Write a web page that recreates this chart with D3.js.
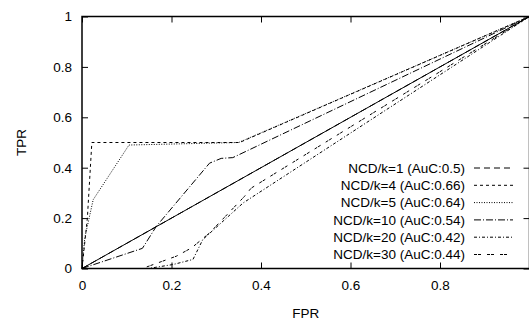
<!DOCTYPE html>
<html>
<head>
<meta charset="utf-8">
<script src="https://cdn.jsdelivr.net/npm/d3@7"></script>
<style>
  body { margin: 0; background: #fff; }
  svg { display: block; }
  text { font-family: "Liberation Sans", Arial, Helvetica, sans-serif; fill: #000; }
</style>
</head>
<body>
<div id="chart"></div>
<script>
// ROC curves, [FPR, TPR] pairs
const seriesLabels = ['NCD/k=1', 'NCD/k=4', 'NCD/k=5', 'NCD/k=10', 'NCD/k=20', 'NCD/k=30'];
const aucValues = [0.5, 0.66, 0.64, 0.54, 0.42, 0.44];

const rocK1 = [[0, 0], [1, 1]];
const rocK4 = [[0, 0], [0.012, 0.2], [0.022, 0.5], [0.352, 0.5], [1, 1]];
const rocK5 = [[0, 0], [0.006, 0.12], [0.025, 0.273], [0.105, 0.49], [0.35, 0.5], [1, 1]];
const rocK10 = [[0, 0], [0.135, 0.08], [0.166, 0.167], [0.285, 0.418], [0.311, 0.437], [0.337, 0.44], [1, 1]];
const rocK20 = [[0, 0], [0.148, 0], [0.204, 0.016], [0.248, 0.036], [0.27, 0.115], [0.36, 0.26], [1, 1]];
const rocK30 = [[0, 0], [0.135, 0], [0.211, 0.049], [0.245, 0.082], [0.285, 0.141], [0.363, 0.286], [0.378, 0.319], [1, 1]];
const rocSeries = [rocK1, rocK4, rocK5, rocK10, rocK20, rocK30];

// reference diagonal (random classifier)
const diagonal = [[0, 0], [1, 1]];

const xTicks = [0, 0.2, 0.4, 0.6, 0.8, 1];
const yTicks = [0, 0.2, 0.4, 0.6, 0.8, 1];

const dashes = ['6,4', '3,3', '1,1.5', '7,2,1,2', '3,2,1,2', '3,1,3,6'];

const width = 529, height = 320;
const margin = { top: 16, right: 0, bottom: 51, left: 82 };

const svg = d3.select('#chart')
  .append('svg')
  .attr('width', width)
  .attr('height', height);

const x = d3.scaleLinear().domain([0, 1]).range([margin.left, 529.5]);
const y = d3.scaleLinear().domain([0, 1]).range([height - margin.bottom - 0.5, margin.top + 0.5]);

const tickLen = 6;
const fontSize = '13.5px';

// axes with inward ticks, mirrored on top and right
const bottomAxis = svg.append('g')
  .attr('transform', `translate(0,${y(0)})`)
  .call(d3.axisBottom(x).tickValues(xTicks).tickSizeInner(-tickLen).tickSizeOuter(0)
    .tickPadding(12).tickFormat(d => d === 1 ? '' : d3.format('')(d)));
bottomAxis.selectAll('text').style('font-size', fontSize).attr('dy', '0.71em');

const leftAxis = svg.append('g')
  .attr('transform', `translate(${x(0)},0)`)
  .call(d3.axisLeft(y).tickValues(yTicks).tickSizeInner(-tickLen).tickSizeOuter(0)
    .tickPadding(10).tickFormat(d3.format('')));
leftAxis.selectAll('text').style('font-size', fontSize);

svg.append('g')
  .attr('transform', `translate(0,${y(1)})`)
  .call(d3.axisTop(x).tickValues(xTicks).tickSizeInner(-tickLen).tickSizeOuter(0).tickFormat(''));

svg.append('g')
  .attr('transform', `translate(${x(1)},0)`)
  .call(d3.axisRight(y).tickValues(yTicks).tickSizeInner(-tickLen).tickSizeOuter(0).tickFormat(''));

svg.selectAll('.domain').remove();
svg.selectAll('.tick line').attr('stroke', '#000').attr('stroke-width', 1);
svg.selectAll('text').attr('font-family', null);

// frame
svg.append('rect')
  .attr('x', x(0))
  .attr('y', y(1))
  .attr('width', x(1) - x(0))
  .attr('height', y(0) - y(1))
  .attr('fill', 'none')
  .attr('stroke', '#000')
  .attr('stroke-width', 1.5);

// axis titles
svg.append('text')
  .attr('x', (x(0) + x(1)) / 2)
  .attr('y', 318)
  .attr('text-anchor', 'middle')
  .style('font-size', fontSize)
  .text('FPR');

svg.append('text')
  .attr('transform', `translate(26,${(y(0) + y(1)) / 2}) rotate(-90)`)
  .attr('text-anchor', 'middle')
  .style('font-size', fontSize)
  .text('TPR');

const line = d3.line()
  .x(d => x(d[0]))
  .y(d => y(d[1]));

svg.append('path')
  .datum(diagonal)
  .attr('fill', 'none')
  .attr('stroke', '#000')
  .attr('stroke-width', 1)
  .attr('d', line);

svg.selectAll('.roc')
  .data(rocSeries)
  .enter().append('path')
  .attr('class', 'roc')
  .attr('fill', 'none')
  .attr('stroke', '#000')
  .attr('stroke-width', 1)
  .attr('stroke-dasharray', (d, i) => dashes[i])
  .attr('d', line);

// legend, bottom right inside the plot
const legendTop = 168;
const rowH = 17.3;
const legend = svg.append('g');
seriesLabels.forEach((name, i) => {
  const cy = legendTop + i * rowH;
  legend.append('text')
    .attr('x', 465)
    .attr('y', cy)
    .attr('dy', '0.35em')
    .attr('text-anchor', 'end')
    .style('font-size', fontSize)
    .text(`${name} (AuC:${aucValues[i]})`);
  legend.append('line')
    .attr('x1', 474).attr('x2', 513)
    .attr('y1', cy).attr('y2', cy)
    .attr('stroke', '#000')
    .attr('stroke-width', 1)
    .attr('stroke-dasharray', dashes[i]);
});
</script>
</body>
</html>
